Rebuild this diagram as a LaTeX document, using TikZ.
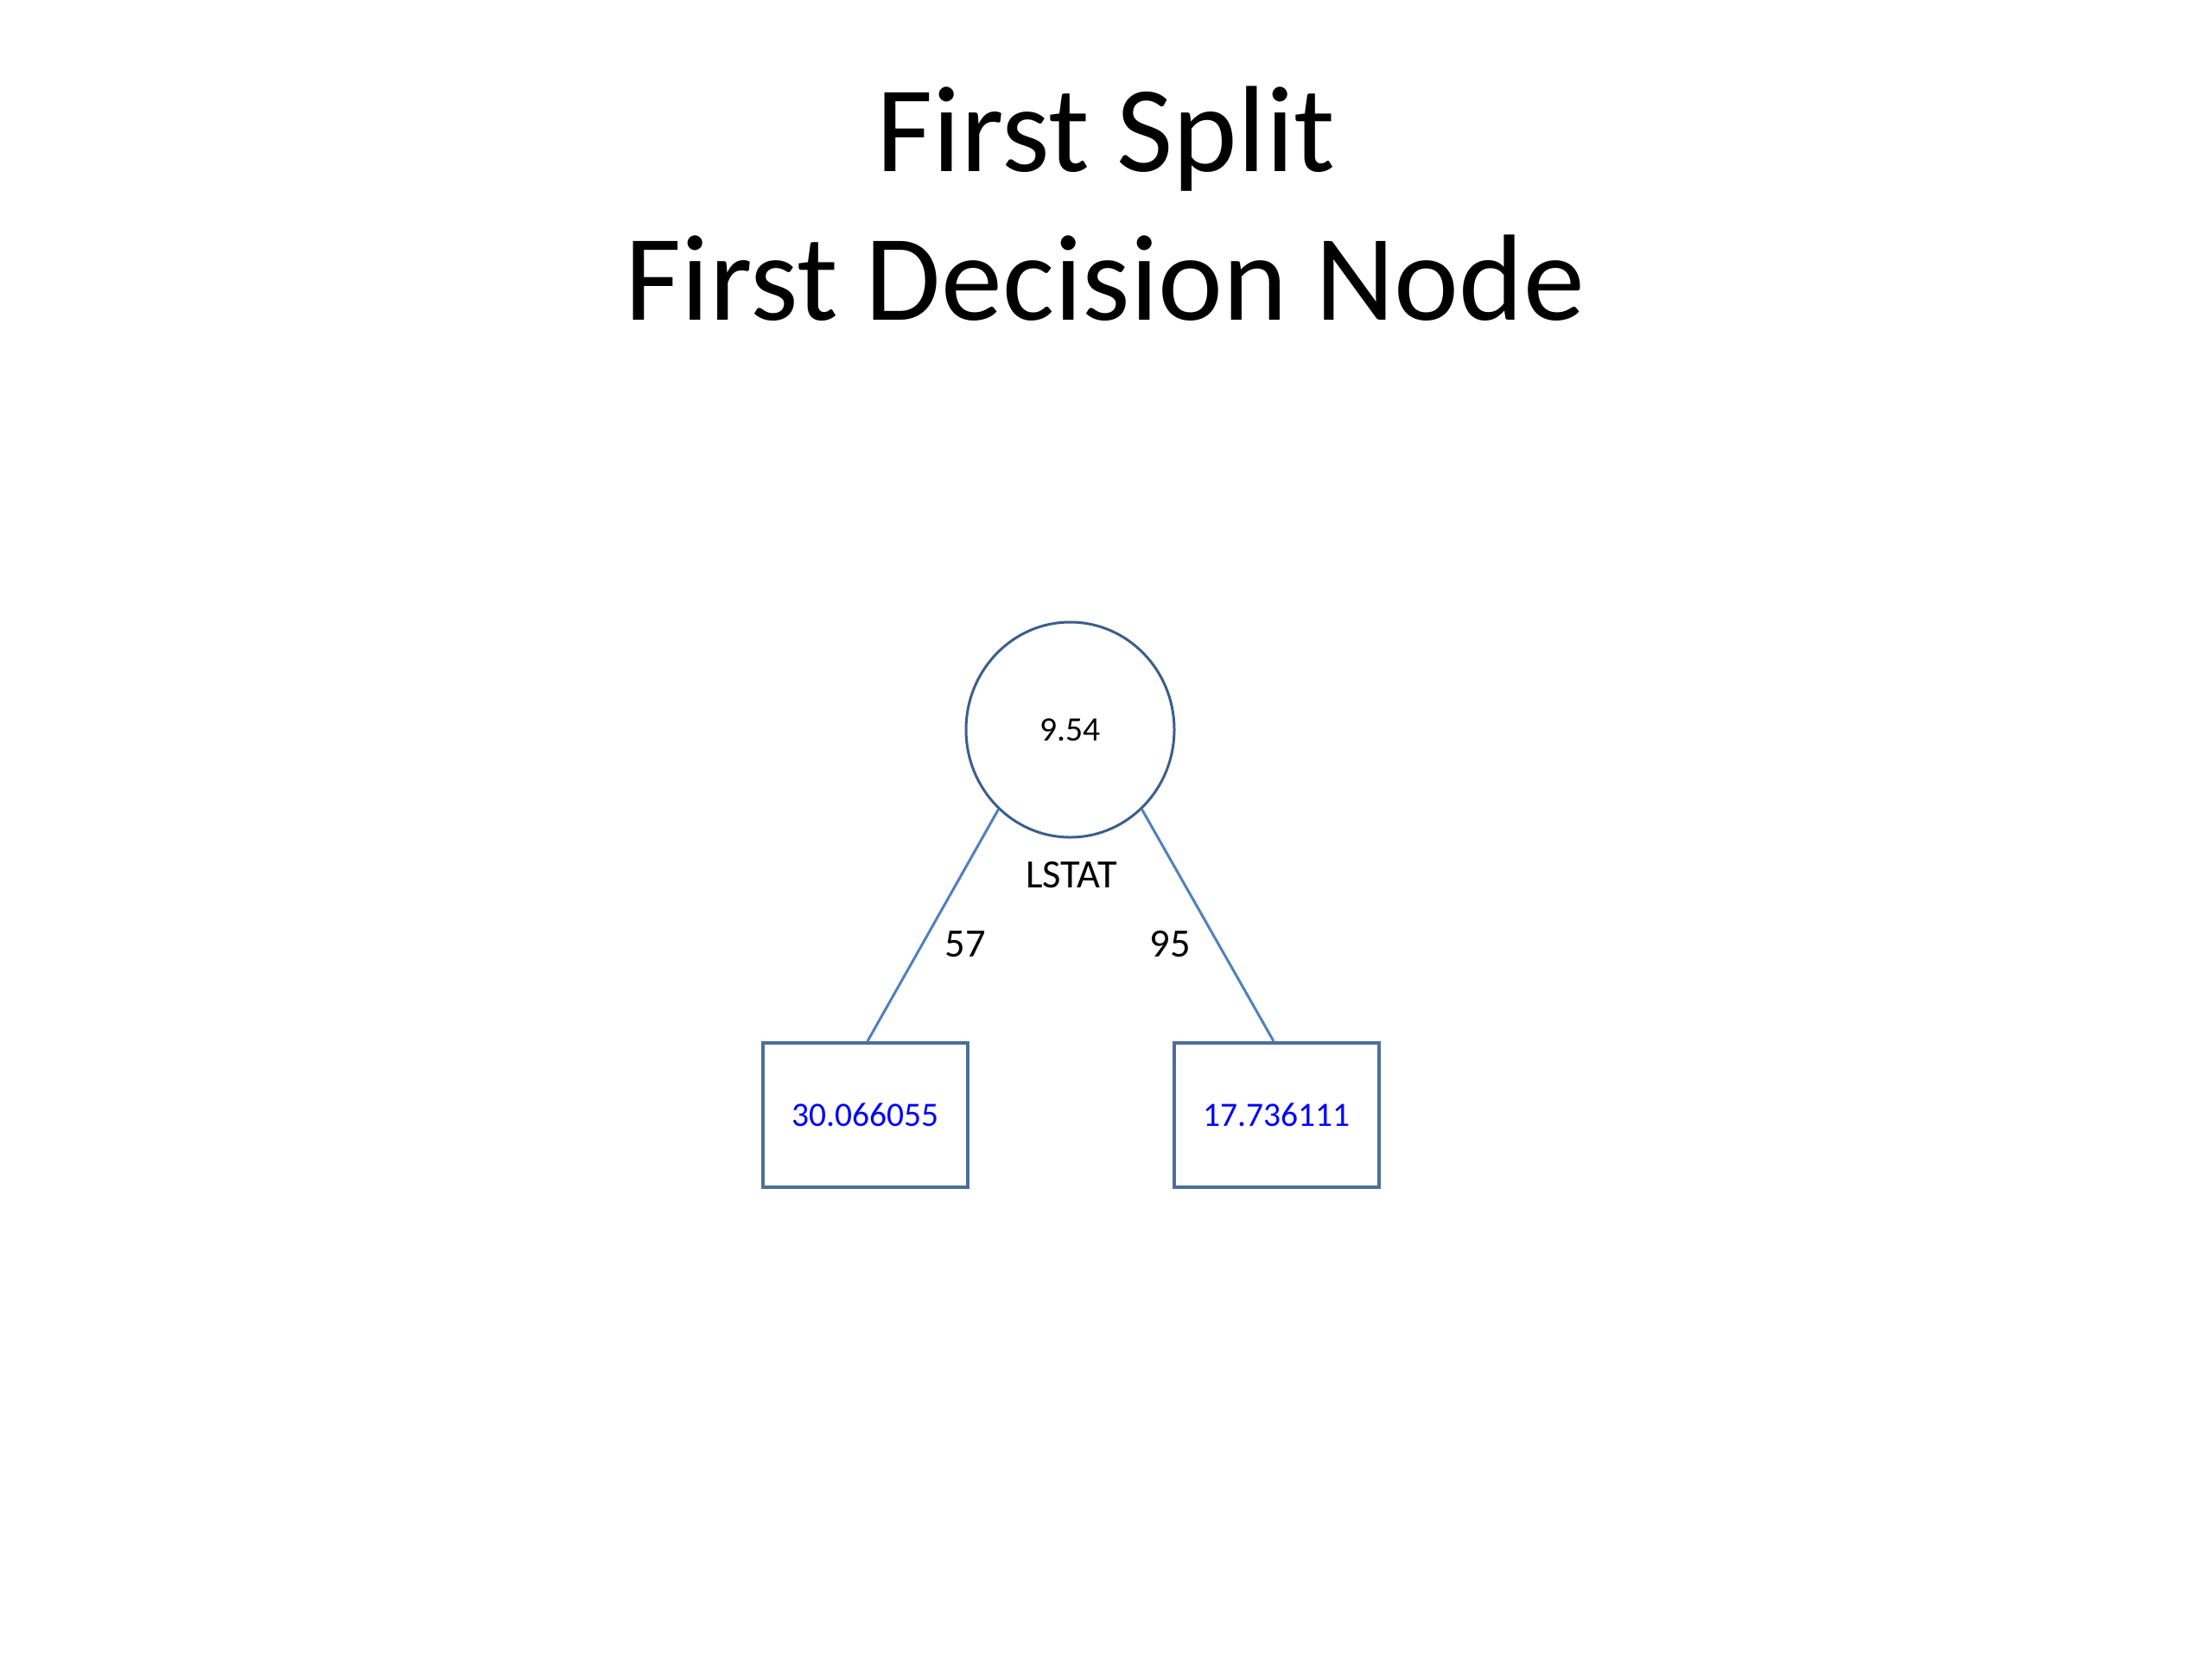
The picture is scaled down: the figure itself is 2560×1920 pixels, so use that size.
\documentclass[tikz,border=0pt]{standalone}
\usepackage{fontspec}
\setmainfont{Carlito}
\usetikzlibrary{shapes.geometric}
\definecolor{circc}{HTML}{3B5E8C}
\definecolor{boxc}{HTML}{4D6E99}
\definecolor{linec}{HTML}{4F81BD}
\definecolor{valc}{HTML}{0000FF}
\begin{document}
\begin{tikzpicture}[x=1pt,y=-1pt,
  titletext/.style={anchor=base,inner sep=0pt,font=\fontsize{142}{170}\selectfont},
  splitnode/.style={ellipse,draw=circc,line width=3pt,inner sep=0pt,minimum width=241pt,minimum height=249pt,font=\fontsize{39.6}{46}\selectfont},
  leafbox/.style={rectangle,draw=boxc,line width=4pt,inner sep=0pt,minimum width=237pt,minimum height=167pt,text=valc,font=\fontsize{39.5}{47}\selectfont},
  lbl/.style={anchor=base,inner sep=0pt,font=\fontsize{46.5}{54}\selectfont},
  conn/.style={draw=linec,line width=3pt}]
\useasboundingbox (0,0) rectangle (2560,1920);
\node[titletext] (t1) at (1280,198) {First Split};
\node[titletext] (t2) at (1279,370) {First Decision Node};
\node[splitnode] (root) at (1238.5,844.5) {9.54};
\node[leafbox] (left) at (1001.5,1290.5) {30.066055};
\node[leafbox] (right) at (1477.5,1290.5) {17.736111};
\draw[conn] (root.228) -- ([xshift=2.5pt]left.north);
\draw[conn] (root.312) -- ([xshift=-3.5pt]right.north);
\node[lbl] (var) at (1240,1027) {LSTAT};
\node[lbl] (nl) at (1117,1107) {57};
\node[lbl] (nr) at (1354,1107) {95};
\end{tikzpicture}
\end{document}
